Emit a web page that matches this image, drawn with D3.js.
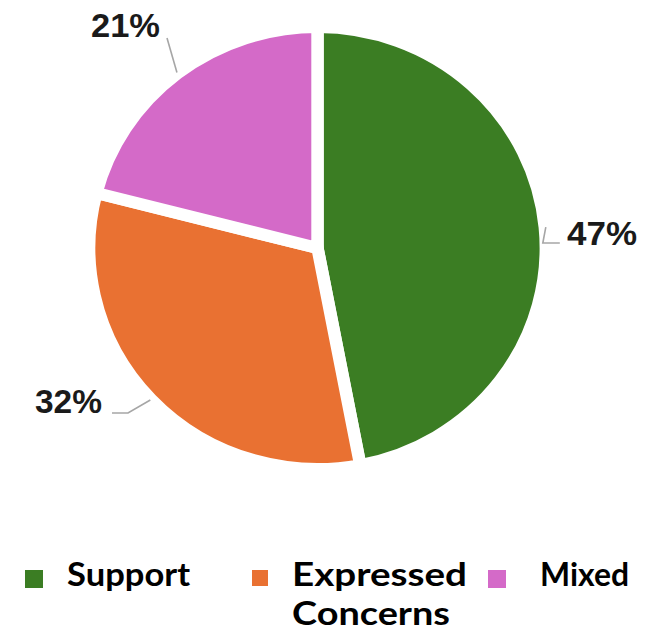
<!DOCTYPE html>
<html><head><meta charset="utf-8">
<script src="https://cdn.jsdelivr.net/npm/d3@7"></script>
<style>html,body{margin:0;padding:0;background:#fff;}svg{display:block;}</style>
</head><body>
<svg id="chart" width="648" height="633"></svg>
<script>
const categories = ["Support", "Expressed Concerns", "Mixed"];
const values = [47, 32, 21];
const labels = ["47%", "32%", "21%"];
const colors = ["#3b7d23", "#e97132", "#d46ac8"];

const svg = d3.select("#chart");
const cx = 317.5, cy = 248, sx = 1.033;
const R = 221, gap = 12;

const pie = d3.pie().sort(null).value(d => d)(values);
const arc = d3.arc().innerRadius(0).outerRadius(R);

const g = svg.append("g").attr("transform", `translate(${cx},${cy}) scale(${sx},1)`);
g.selectAll("path").data(pie).join("path")
  .attr("d", arc)
  .attr("fill", (d, i) => colors[i])
  .attr("stroke", "#fff")
  .attr("stroke-width", gap)
  .attr("stroke-linejoin", "miter");

// label leader lines and text
const rl = 222;
function pt(a, r) { return [cx + Math.sin(a) * r * sx, cy - Math.cos(a) * r]; }
const layout = [
  {elbow: (p) => [p[0] - 3, 243], end: (e) => [e[0] + 17, e[1]], tx: 567, ty: 245, anchor: "start", w: 70},
  {elbow: (p) => [128, 413], end: (e) => [e[0] - 16, e[1]], tx: 102, ty: 413, anchor: "end", w: 67},
  {elbow: (p) => [167, 38], end: null, tx: 160, ty: 37, anchor: "end", w: 69}
];
pie.forEach((d, i) => {
  const a = (d.startAngle + d.endAngle) / 2;
  const p = pt(a, rl);
  const L = layout[i];
  const e = L.elbow(p);
  const pts = [p, e];
  if (L.end) pts.push(L.end(e));
  svg.append("path")
    .attr("d", d3.line()(pts))
    .attr("fill", "none")
    .attr("stroke", "#a6a6a6")
    .attr("stroke-width", 1.6);
  svg.append("text")
    .attr("x", L.tx).attr("y", L.ty)
    .attr("text-anchor", L.anchor)
    .attr("font-family", "Liberation Sans, Arial, sans-serif")
    .attr("font-weight", "bold")
    .attr("font-size", 33)
    .attr("textLength", L.w)
    .attr("lengthAdjust", "spacingAndGlyphs")
    .attr("fill", "#1a1a1a")
    .text(labels[i]);
});

// legend
const legend = [
  {sq: [25, 570, 18], tx: 67, lines: ["Support"], w: [123]},
  {sq: [252, 570, 16], tx: 292, lines: ["Expressed", "Concerns"], w: [175, 158]},
  {sq: [488, 570, 18], tx: 540, lines: ["Mixed"], w: [89]}
];
legend.forEach((L, i) => {
  svg.append("rect")
    .attr("x", L.sq[0]).attr("y", L.sq[1])
    .attr("width", L.sq[2]).attr("height", L.sq[2])
    .attr("fill", colors[i]);
  L.lines.forEach((ln, j) => {
    svg.append("text")
      .attr("x", L.tx).attr("y", 586 + j * 39)
      .attr("font-family", "Lato, 'Open Sans', sans-serif")
      .attr("font-weight", "bold")
      .attr("font-size", 33)
      .attr("textLength", L.w[j])
      .attr("lengthAdjust", "spacingAndGlyphs")
      .attr("fill", "#000")
      .text(ln);
  });
});
</script>
</body></html>
